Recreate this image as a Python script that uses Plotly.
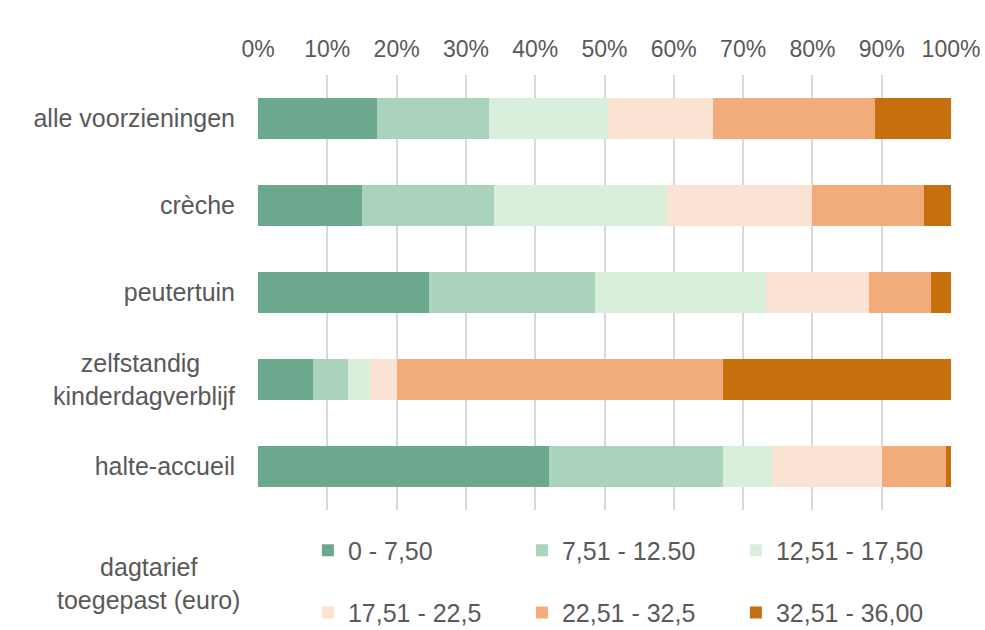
import plotly.graph_objects as go

categories = ["alle voorzieningen", "crèche", "peutertuin",
              "zelfstandig" + "\u00a0" * 5 + "<br>kinderdagverblijf", "halte-accueil"]
series_names = ["0 - 7,50", "7,51 - 12.50", "12,51 - 17,50",
                "17,51 - 22,5", "22,51 - 32,5", "32,51 - 36,00"]
v_0_750 = [17.2, 15.0, 24.7, 7.9, 42.0]
v_751_1250 = [16.1, 19.1, 23.9, 5.1, 25.1]
v_1251_1750 = [17.2, 24.9, 24.7, 3.2, 7.1]
v_1751_225 = [15.2, 20.9, 14.9, 3.9, 15.8]
v_2251_325 = [23.3, 16.2, 8.9, 47.0, 9.3]
v_3251_36 = [11.0, 3.9, 2.9, 32.9, 0.7]
series_values = [v_0_750, v_751_1250, v_1251_1750, v_1751_225, v_2251_325, v_3251_36]
colors = ["#6ba88e", "#a9d3bd", "#d9eedb", "#fae3d3", "#f2ac7b", "#c56f0f"]
tick_vals = [0, 10, 20, 30, 40, 50, 60, 70, 80, 90, 100]
tick_text = [f"{t}%" for t in tick_vals]
legend_title = "dagtarief<br>toegepast (euro)"

font_color = "#595959"
font_family = "Liberation Sans, Arial"
fig = go.Figure()
for i, (name, vals, col) in enumerate(zip(series_names, series_values, colors)):
    fig.add_trace(go.Bar(
        y=categories, x=vals, name=name, orientation="h",
        marker=dict(color=col, line=dict(width=0)),
        width=0.48,
        legend="legend" if i < 3 else "legend2",
    ))

legend_common = dict(
    orientation="h", entrywidth=169, entrywidthmode="pixels",
    itemwidth=30, font=dict(size=25, color=font_color, family=font_family),
    xanchor="left", yanchor="middle", bgcolor="rgba(0,0,0,0)",
    traceorder="normal",
)

fig.update_layout(
    width=985, height=630,
    margin=dict(l=258, r=34, t=75, b=120, autoexpand=False),
    paper_bgcolor="white", plot_bgcolor="white",
    barmode="stack",
    font=dict(family=font_family, color=font_color),
    xaxis=dict(
        side="top", range=[0, 100], tickvals=tick_vals, ticktext=tick_text,
        showgrid=True, gridcolor="#d9d9d9", gridwidth=1.5, zeroline=False,
        tickfont=dict(size=23, color=font_color), ticklabelstandoff=12,
        fixedrange=True, automargin=False,
    ),
    yaxis=dict(
        autorange="reversed", showgrid=False, zeroline=False,
        tickfont=dict(size=25, color=font_color), ticklabelstandoff=22,
        showline=False, automargin=False,
    ),
    legend=dict(x=0.072, y=-0.093, **legend_common),
    legend2=dict(x=0.072, y=-0.236, **legend_common),
    annotations=[dict(
        text=legend_title, xref="paper", yref="paper",
        x=(148 - 258) / 693, y=-0.168, xanchor="center", yanchor="middle",
        showarrow=False, align="center",
        font=dict(size=25, color=font_color, family=font_family),
    )],
    showlegend=True,
)

fig.write_html("out.html", config={"displayModeBar": False},
               post_script="document.body.style.margin='0';")
